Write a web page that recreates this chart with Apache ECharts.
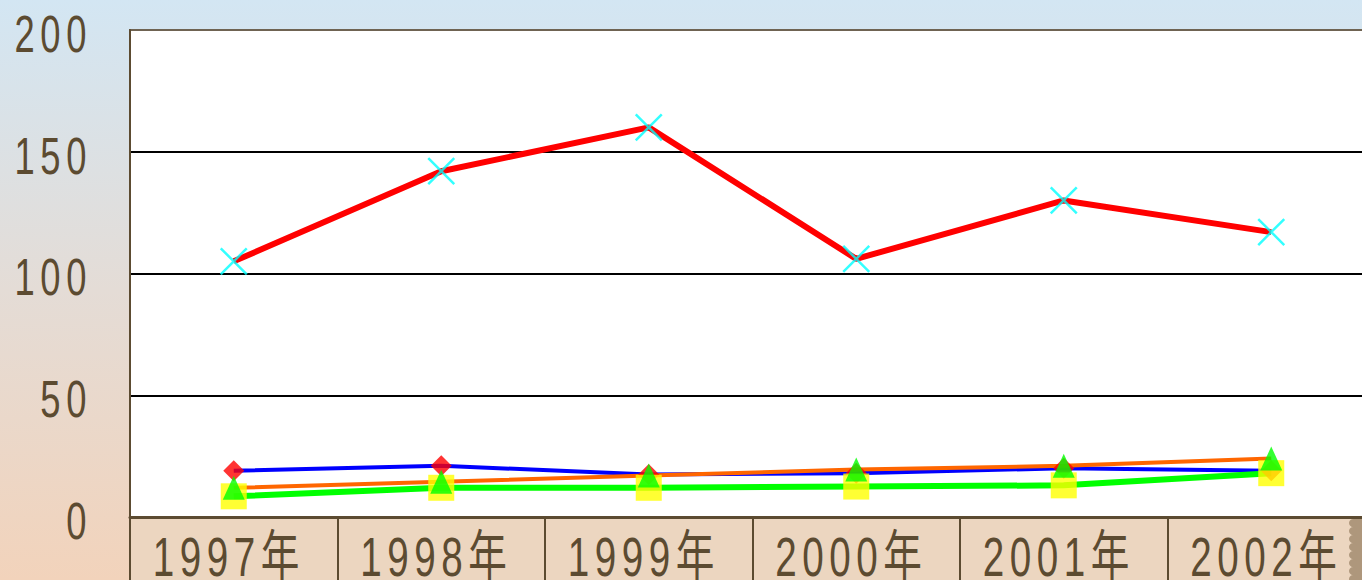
<!DOCTYPE html>
<html>
<head>
<meta charset="utf-8">
<script src="https://cdn.jsdelivr.net/npm/echarts@6/dist/echarts.min.js"></script>
<style>
  html, body { margin: 0; padding: 0; overflow: hidden; }
  #chart { width: 1362px; height: 580px; }
  /* tick labels are set with wide tracking */
  #chart svg text { letter-spacing: 8px; }
</style>
</head>
<body>
<div id="chart"></div>
<script>
// Categories, series values and value-axis ticks
const years = ['1997年', '1998年', '1999年', '2000年', '2001年', '2002年'];
const blueValues = [19, 21, 17.5, 18, 20, 19];
const greenValues = [8.5, 12, 12, 12.5, 13, 18];
const orangeValues = [12, 14.5, 17, 19.5, 21, 24];
const redValues = [105, 142, 160, 106, 130, 117];
const yTicks = [0, 50, 100, 150, 200];

const textColor = '#5c4b31';
const labelFont = "'Liberation Sans', Arial, 'Noto Sans CJK SC', sans-serif";

const chart = echarts.init(document.getElementById('chart'), null, { renderer: 'svg' });

function lineSeries(data, color, width) {
  return {
    type: 'line', data: data, symbol: 'none', z: 2,
    lineStyle: { color: color, width: width }, silent: true, animation: false
  };
}
function markerSeries(data, symbol, size, itemStyle) {
  return {
    type: 'scatter', data: data, symbol: symbol, symbolSize: size, z: 3,
    itemStyle: itemStyle, silent: true, animation: false
  };
}

chart.setOption({
  backgroundColor: {
    type: 'linear', x: 0, y: 0, x2: 0, y2: 1,
    colorStops: [
      { offset: 0, color: '#d3e6f3' },
      { offset: 0.5, color: '#e4dcd6' },
      { offset: 1, color: '#f2d3bb' }
    ]
  },
  animation: false,
  grid: {
    left: 130, top: 30, right: -13, bottom: 63,
    outerBoundsMode: 'none', containLabel: false,
    show: true, backgroundColor: '#ffffff', borderColor: '#6f6352', borderWidth: 2
  },
  xAxis: {
    type: 'category', data: years, boundaryGap: true,
    axisLine: { lineStyle: { color: textColor, width: 3 } },
    axisTick: { show: true, length: 63, lineStyle: { color: textColor, width: 2 } },
    axisLabel: { show: false },
    splitLine: { show: false }
  },
  yAxis: {
    type: 'value', min: yTicks[0], max: yTicks[yTicks.length - 1], interval: yTicks[1] - yTicks[0],
    axisLine: { show: true, lineStyle: { color: textColor, width: 2 } },
    axisTick: { show: false },
    axisLabel: { show: false },
    splitLine: { show: true, showMinLine: false, showMaxLine: false, lineStyle: { color: '#000000', width: 2 } }
  },
  series: [
    lineSeries(blueValues, '#0000ff', 4),
    lineSeries(greenValues, '#00ff00', 6),
    lineSeries(orangeValues, '#ff6600', 4),
    lineSeries(redValues, '#ff0000', 6),
    markerSeries(blueValues, 'diamond', 21, { color: '#ff0000' }),
    markerSeries(greenValues, 'rect', 26, { color: '#ffff00' }),
    markerSeries(orangeValues, 'triangle', [22, 24], { color: '#00ff00' }),
    markerSeries(redValues, 'path://M0,0L10,10M10,0L0,10', 26,
      { color: 'rgba(0,0,0,0)', borderColor: '#00ffff', borderWidth: 2.5 })
  ]
});

// Tick labels in a condensed face, placed through the axes' own scales
const gridRect = chart.getModel().getComponent('grid').coordinateSystem.getRect();
const axisY = gridRect.y + gridRect.height;
const graphics = [
  // tan band under the plot that holds the category labels
  { type: 'rect', shape: { x: gridRect.x, y: axisY, width: gridRect.width + 20, height: 80 },
    style: { fill: '#ecd6c0' }, z: -2, silent: true }
];
// scalloped strip at the lower right edge
graphics.push({ type: 'rect', shape: { x: 1353, y: axisY + 1, width: 12, height: 80 },
  style: { fill: '#ae977c' }, z: -1, silent: true });
for (let y = axisY + 6; y < 590; y += 8) {
  graphics.push({ type: 'circle', shape: { cx: 1353, cy: y, r: 4 },
    style: { fill: '#ae977c' }, z: -1, silent: true });
}
years.forEach(function (yr) {
  const px = chart.convertToPixel({ xAxisIndex: 0 }, yr);
  graphics.push({
    type: 'text', x: px - 5, y: axisY + 39, scaleX: 0.69, z: 10, silent: true,
    style: { text: yr, fill: textColor, font: '56px ' + labelFont, align: 'center', verticalAlign: 'middle' }
  });
});
yTicks.forEach(function (v) {
  const py = chart.convertToPixel({ yAxisIndex: 0 }, v);
  graphics.push({
    type: 'text', x: 92, y: py + 4, scaleX: 0.7, z: 10, silent: true,
    style: { text: String(v), fill: textColor, font: '52px ' + labelFont, align: 'right', verticalAlign: 'middle' }
  });
});
chart.setOption({ graphic: graphics });
</script>
</body>
</html>
